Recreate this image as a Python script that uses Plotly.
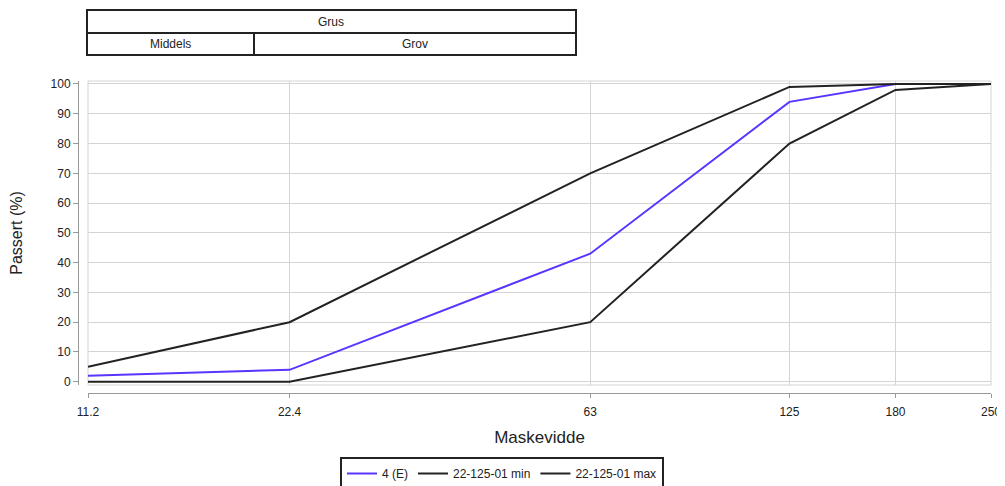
import math
import plotly.graph_objects as go

# Data
sieve = [11.2, 22.4, 63, 125, 180, 250]
tick_labels = ["11.2", "22.4", "63", "125", "180", "250"]
sample_e = [2, 4, 43, 94, 100, 100]
spec_min = [0, 0, 20, 80, 98, 100]
spec_max = [5, 20, 70, 99, 100, 100]
series_names = ["4 (E)", "22-125-01 min", "22-125-01 max"]
table_top = "Grus"
table_bottom = ["Middels", "Grov"]

# page has an 8px body margin; figure sized to fit
OFF = 8
W, H = 997, 478
ML, MR, MT, MB = 60, 14, 73, 0
PW, PH = W - ML - MR, H - MT - MB


def px(X):
    return (X - OFF - ML) / PW


def py(Y):
    return (H - (Y - OFF)) / PH


FONT = "Liberation Sans, Arial, sans-serif"

fig = go.Figure()
colors = ["#5a34ff", "#222222", "#222222"]
for name, vals, c in zip(series_names, [sample_e, spec_min, spec_max], colors):
    fig.add_trace(go.Scatter(x=sieve, y=vals, mode="lines", name=name,
                             line=dict(color=c, width=2)))

fig.update_layout(
    width=W, height=H,
    margin=dict(l=ML, r=MR, t=MT, b=MB, autoexpand=False),
    plot_bgcolor="white", paper_bgcolor="white",
    font=dict(family=FONT, size=12, color="#222"),
    xaxis=dict(
        type="log", domain=[px(88), 1],
        range=[math.log10(11.2), math.log10(250)],
        tickvals=sieve, ticktext=tick_labels,
        showgrid=True, gridcolor="#d4d4d4", gridwidth=1,
        zeroline=False, showline=True, linecolor="#999", linewidth=1,
        ticks="outside", ticklen=4, tickcolor="#999",
        anchor="free", position=py(393), automargin=False,
        ticklabelstandoff=4,
        title=dict(text="Maskevidde", font=dict(size=17, color="#222"), standoff=12),
        tickfont=dict(size=12),
    ),
    yaxis=dict(
        domain=[py(385), 1],
        range=[-1.1, 101],
        tickvals=list(range(0, 101, 10)),
        showgrid=True, gridcolor="#d4d4d4", gridwidth=1,
        zeroline=False, showline=True, linecolor="#999", linewidth=1,
        ticks="outside", ticklen=5, tickcolor="#999",
        anchor="free", position=px(78), automargin=False,
        title=dict(text="Passert (%)", font=dict(size=16, color="#222"), standoff=22),
        tickfont=dict(size=12),
    ),
    legend=dict(orientation="h", x=px(502), xanchor="center", y=py(457), yanchor="top",
                bordercolor="#222", borderwidth=2, font=dict(size=12)),
    showlegend=True,
)

shapes = [
    # plot area border
    dict(type="rect", xref="x domain", yref="y domain", x0=0, x1=1, y0=0, y1=1,
         line=dict(color="#d4d4d4", width=1), layer="below"),
    # table
    dict(type="rect", xref="paper", yref="paper", x0=px(87), x1=px(576), y0=py(55), y1=py(10),
         line=dict(color="#222", width=2)),
    dict(type="line", xref="paper", yref="paper", x0=px(87), x1=px(576), y0=py(33), y1=py(33),
         line=dict(color="#222", width=2)),
    dict(type="line", xref="paper", yref="paper", x0=px(254), x1=px(254), y0=py(55), y1=py(33),
         line=dict(color="#222", width=2)),
]
fig.update_layout(shapes=shapes)

ann = [
    dict(text=table_top, x=px(331), y=py(21.5)),
    dict(text=table_bottom[0], x=px(170), y=py(44)),
    dict(text=table_bottom[1], x=px(415), y=py(44)),
]
for a in ann:
    fig.add_annotation(xref="paper", yref="paper", showarrow=False,
                       xanchor="center", yanchor="middle",
                       font=dict(size=12, color="#222"), **a)

fig.write_html("out.html")
